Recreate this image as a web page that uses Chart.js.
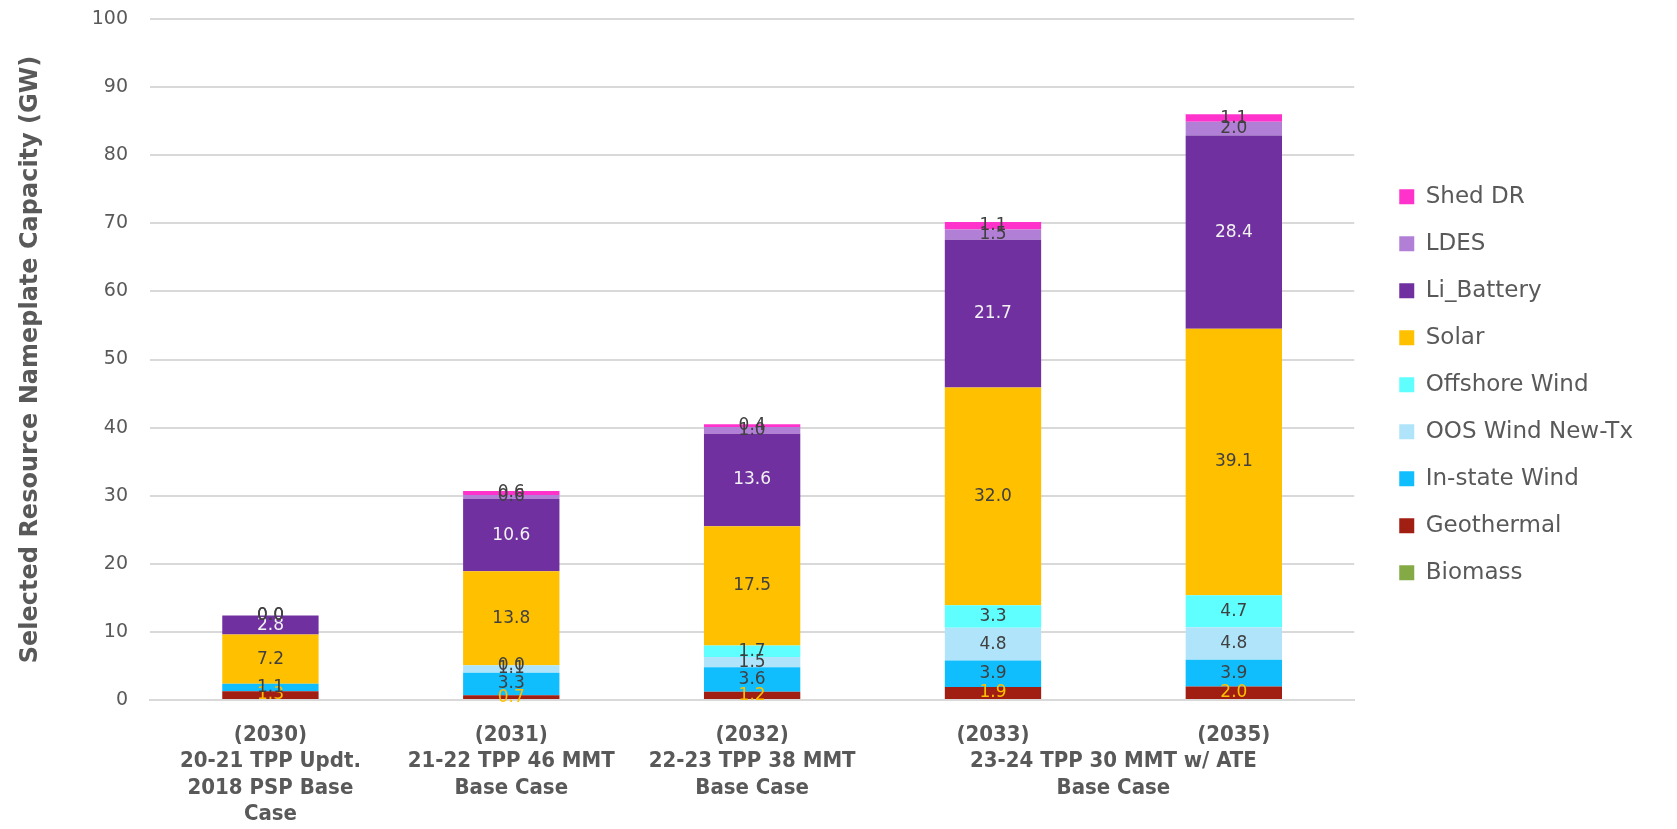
<!DOCTYPE html>
<html>
<head>
<meta charset="utf-8">
<script src="https://cdn.jsdelivr.net/npm/chart.js@4.4.1/dist/chart.umd.min.js"></script>
<style>
html,body{margin:0;padding:0;background:#fff;}
#wrap{width:1677px;height:829px;position:relative;}
</style>
</head>
<body>
<div id="wrap"><canvas id="capacityChart"></canvas></div>
<script>
// categories (multi-line tick labels), last two share a group label
const categories = [
["(2030)","20-21 TPP Updt.","2018 PSP Base","Case"],
["(2031)","21-22 TPP 46 MMT","Base Case"],
["(2032)","22-23 TPP 38 MMT","Base Case"],
["(2033)"],
["(2035)"]
];
const groupLabel = ["23-24 TPP 30 MMT w/ ATE","Base Case"];
const yTicks = [0,10,20,30,40,50,60,70,80,90,100];

// values in GW, bottom to top
const biomass = [null,null,null,null,null];
const geothermal = [1.3,0.7,1.2,1.9,2.0];
const instateWind = [1.1,3.3,3.6,3.9,3.9];
const oosWind = [null,1.1,1.5,4.8,4.8];
const offshoreWind = [null,0.0,1.7,3.3,4.7];
const solar = [7.2,13.8,17.5,32.0,39.1];
const liBattery = [2.8,10.6,13.6,21.7,28.4];
const ldes = [0.0,0.6,1.0,1.5,2.0];
const shedDR = [0.0,0.6,0.4,1.1,1.1];

const seriesNames = ["Biomass","Geothermal","In-state Wind","OOS Wind New-Tx","Offshore Wind","Solar","Li_Battery","LDES","Shed DR"];
const seriesData = [biomass,geothermal,instateWind,oosWind,offshoreWind,solar,liBattery,ldes,shedDR];
const seriesColors = ["#84AA46","#A01E12","#10BEFE","#B0E4FB","#60FFFF","#FFC000","#7030A0","#B27FD6","#FF33CC"];
const labelColors = ["#404040","#FFC000","#404040","#404040","#404040","#404040","#F2F2F2","#404040","#404040"];

const FONT = "'DejaVu Sans', sans-serif";
const XFONT = "'DejaVu Sans Condensed', 'DejaVu Sans', sans-serif";
const GREY = "#595959";
const X_LINE = 26.4;

const segmentLabels = {
id:"segmentLabels",
afterDatasetsDraw(chart){
const ctx = chart.ctx;
ctx.save();
ctx.font = "17px " + FONT;
ctx.textAlign = "center";
ctx.textBaseline = "middle";
chart.data.datasets.forEach((ds,i)=>{
const meta = chart.getDatasetMeta(i);
meta.data.forEach((bar,j)=>{
const v = ds.data[j];
if(v === null || v === undefined) return;
ctx.fillStyle = labelColors[i];
ctx.fillText(v.toFixed(1), bar.x, (bar.y + bar.base)/2);
});
});
ctx.restore();
}
};

const groupTick = {
id:"groupTick",
afterDraw(chart){
const x = chart.scales.x;
const ctx = chart.ctx;
const mid = (x.getPixelForValue(3) + x.getPixelForValue(4))/2;
ctx.save();
ctx.font = "bold 22px " + XFONT;
ctx.fillStyle = GREY;
ctx.textAlign = "center";
ctx.textBaseline = "middle";
groupLabel.forEach((line,k)=>{
ctx.fillText(line, mid, chart.chartArea.bottom + 22 + X_LINE/2 + (k+1)*X_LINE);
});
ctx.restore();
}
};

const datasets = seriesNames.map((name,i)=>({
label:name,
data:seriesData[i],
backgroundColor:seriesColors[i],
borderWidth:0,
yAxisID:"y",
categoryPercentage:1,
barPercentage:0.4
}));

new Chart(document.getElementById("capacityChart"),{
type:"bar",
data:{labels:categories, datasets:datasets},
options:{
responsive:true,
maintainAspectRatio:false,
animation:false,
layout:{padding:{left:6,top:0,right:34,bottom:0}},
plugins:{
legend:{
position:"right",
fullSize:false,
reverse:true,
title:{display:true,text:"",font:{size:12},padding:{top:18,bottom:18}},
labels:{
font:{family:FONT,size:23},
color:GREY,
boxWidth:15,
boxHeight:15,
padding:24
}
},
tooltip:{enabled:false}
},
scales:{
x:{
stacked:true,
grid:{display:false,drawTicks:false},
border:{color:"#D9D9D9",width:2},
ticks:{
font:{family:XFONT,size:22,weight:"bold",lineHeight:1.2},
color:GREY,
padding:22,
maxRotation:0,
autoSkip:false
},
afterFit(s){ s.height = 129; }
},
y:{
stacked:true,
min:0,
max:100,
afterBuildTicks(s){ s.ticks = yTicks.map(v=>({value:v})); },
grid:{color:"#D9D9D9",lineWidth:2,drawTicks:false},
border:{display:false},
ticks:{font:{family:FONT,size:19},color:GREY,padding:22},
title:{
display:true,
text:"Selected Resource Nameplate Capacity (GW)",
font:{family:FONT,size:24,weight:"bold"},
color:GREY,
padding:{top:10,bottom:0}
},
afterFit(s){ s.width = 144; s.paddingTop = 19; s.paddingBottom = 0; }
},
yR:{
position:"right",
display:true,
grid:{display:false,drawTicks:false},
border:{display:false},
ticks:{display:false},
afterFit(s){ s.width = 21; }
}
}
},
plugins:[segmentLabels,groupTick]
});
</script>
</body>
</html>
